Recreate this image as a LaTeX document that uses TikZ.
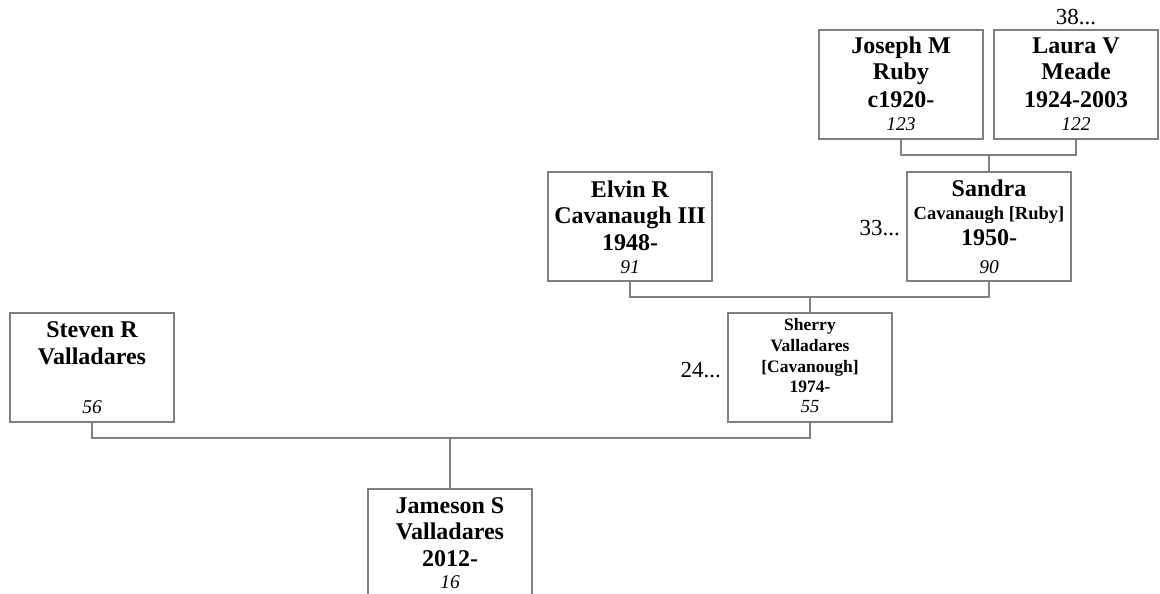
\documentclass[tikz,border=0pt]{standalone}
\usepackage{fontspec}
\setmainfont{Liberation Serif}
\usetikzlibrary{calc}
\definecolor{lg}{RGB}{128,128,128}
\tikzset{
 pbox/.style={draw=lg, line width=1.3pt, minimum width=164pt, minimum height=109pt, inner sep=0pt, outer sep=0pt, anchor=north west},
 nm/.style={anchor=base, inner sep=0pt, font=\fontsize{24}{26}\selectfont\bfseries},
 nms/.style={anchor=base, inner sep=0pt, font=\fontsize{17.5}{20}\selectfont\bfseries},
 nmm/.style={anchor=base, inner sep=0pt, font=\fontsize{18.5}{22}\selectfont\bfseries},
 rn/.style={anchor=base, inner sep=0pt, font=\fontsize{19.5}{22}\selectfont\itshape},
 rns/.style={anchor=base, inner sep=0pt, font=\fontsize{18.5}{20}\selectfont\itshape},
 more/.style={inner sep=0pt, font=\fontsize{23}{26}\selectfont},
 conn/.style={draw=lg, line width=1.2pt},
}
\begin{document}
\begin{tikzpicture}[x=1pt,y=-1pt]
\useasboundingbox (0,0) rectangle (1160,594);
\fill[white] (0,0) rectangle (1160,594);
\clip (0,0) rectangle (1160,594);

% boxes
\node[pbox] (jos) at (819,30) {};
\node[pbox] (lau) at (994,30) {};
\node[pbox] (san) at (907,172) {};
\node[pbox] (elv) at (548,172) {};
\node[pbox] (she) at (728,313) {};
\node[pbox] (ste) at (10,313) {};
\node[pbox] (jam) at (368,489) {};

% Joseph
\node[nm] (jos1) at ($(jos.north)+(0,24)$) {Joseph M};
\node[nm] (jos2) at ($(jos.north)+(0,50)$) {Ruby};
\node[nm] (jos3) at ($(jos.north)+(0,77)$) {c1920-};
\node[rn] (jos4) at ($(jos.north)+(0,101)$) {123};
% Laura
\node[nm] (lau1) at ($(lau.north)+(0,24)$) {Laura V};
\node[nm] (lau2) at ($(lau.north)+(0,50)$) {Meade};
\node[nm] (lau3) at ($(lau.north)+(0,77)$) {1924-2003};
\node[rn] (lau4) at ($(lau.north)+(0,101)$) {122};
\node[more, anchor=base] (lau5) at ($(lau.north)+(0,-5)$) {38...};
% Elvin
\node[nm] (elv1) at ($(elv.north)+(0,25)$) {Elvin R};
\node[nm] (elv2) at ($(elv.north)+(0,51)$) {Cavanaugh III};
\node[nm] (elv3) at ($(elv.north)+(0,78)$) {1948-};
\node[rn] (elv4) at ($(elv.north)+(0,101)$) {91};
% Sandra
\node[nm] (san1) at ($(san.north)+(0,24)$) {Sandra};
\node[nmm] (san2) at ($(san.north)+(0,47)$) {Cavanaugh [Ruby]};
\node[nm] (san3) at ($(san.north)+(0,73)$) {1950-};
\node[rn] (san4) at ($(san.north)+(0,101)$) {90};
\node[more, anchor=base east] (san5) at ($(san.west)+(-7,8.5)$) {33...};
% Sherry
\node[nms] (she1) at ($(she.north)+(0,17)$) {Sherry};
\node[nms] (she2) at ($(she.north)+(0,38)$) {Valladares};
\node[nms] (she3) at ($(she.north)+(0,59)$) {[Cavanough]};
\node[nms] (she4) at ($(she.north)+(0,79)$) {1974-};
\node[rns] (she5) at ($(she.north)+(0,99)$) {55};
\node[more, anchor=base east] (she6) at ($(she.west)+(-7,9.5)$) {24...};
% Steven
\node[nm] (ste1) at ($(ste.north)+(0,24)$) {Steven R};
\node[nm] (ste2) at ($(ste.north)+(0,51)$) {Valladares};
\node[rn] (ste3) at ($(ste.north)+(0,100)$) {56};
% Jameson
\node[nm] (jam1) at ($(jam.north)+(0,24)$) {Jameson S};
\node[nm] (jam2) at ($(jam.north)+(0,50)$) {Valladares};
\node[nm] (jam3) at ($(jam.north)+(0,77)$) {2012-};
\node[rn] (jam4) at ($(jam.north)+(0,99)$) {16};

% connectors
\coordinate (jb) at ($(jos.south)+(0,16)$);
\coordinate (eb) at ($(elv.south)+(0,16)$);
\coordinate (sb) at ($(ste.south)+(0,16)$);
\draw[conn] (jos.south) -- (jb) -| (lau.south);
\draw[conn] (san.north) -- (san.north |- jb);
\draw[conn] (elv.south) -- (eb) -| (san.south);
\draw[conn] (she.north) -- (she.north |- eb);
\draw[conn] (ste.south) -- (sb) -| (she.south);
\draw[conn] (jam.north) -- (jam.north |- sb);
\end{tikzpicture}
\end{document}
